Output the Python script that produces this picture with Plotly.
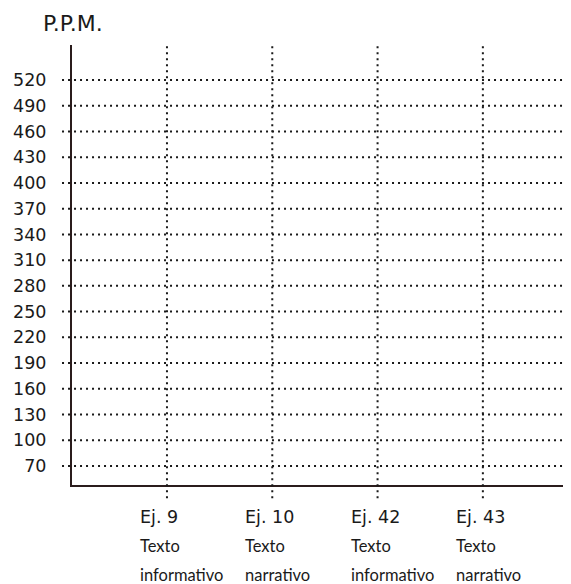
import plotly.graph_objects as go

# Data
categories = ["Ej. 9", "Ej. 10", "Ej. 42", "Ej. 43"]
category_line2 = ["Texto", "Texto", "Texto", "Texto"]
category_line3 = ["informativo", "narrativo", "informativo", "narrativo"]
y_ticks = [70, 100, 130, 160, 190, 220, 250, 280, 310, 340,
           370, 400, 430, 460, 490, 520]
y_title = "P.P.M."

# page body has an 8px margin; compensate so the plot lands where intended
W, H = 563, 576
NUM_FONT = "DejaVu Sans"
TXT_FONT = "Lato"
INK = "#1a1a1a"
PLOT_H = 440.0

fig = go.Figure()
# invisible trace to establish the category axis
fig.add_trace(go.Scatter(x=categories, y=[None] * len(categories),
                         mode="markers", showlegend=False, hoverinfo="skip"))

shapes = []
for v in y_ticks:
    shapes.append(dict(type="line", xref="paper", yref="y",
                       x0=-0.02, x1=0.99, y0=v, y1=v,
                       line=dict(color=INK, width=2, dash="2px,4px")))
for c in categories:
    shapes.append(dict(type="line", xref="x", yref="paper",
                       x0=c, x1=c, y0=-0.03, y1=1.005,
                       line=dict(color=INK, width=2, dash="2px,4px")))

annotations = [dict(text=y_title, xref="paper", yref="paper",
                    x=-0.062, y=1.048, xanchor="left", yanchor="middle",
                    showarrow=False, font=dict(family=NUM_FONT, size=22, color=INK))]
rows = [(categories, -32, NUM_FONT, 17.5),
        (category_line2, -61, TXT_FONT, 16.5),
        (category_line3, -90, TXT_FONT, 16.5)]
for labels, dy, fam, size in rows:
    for c, lab in zip(categories, labels):
        annotations.append(dict(text=lab, xref="x", yref="paper",
                                x=c, y=dy / PLOT_H, xanchor="left", yanchor="middle",
                                xshift=-29, align="left", showarrow=False,
                                font=dict(family=fam, size=size, color=INK)))

fig.update_layout(
    width=W, height=H,
    margin=dict(l=64, r=0, t=37, b=99),
    paper_bgcolor="white", plot_bgcolor="white",
    shapes=shapes, annotations=annotations,
    showlegend=False,
    xaxis=dict(type="category", range=[-0.902, 3.837],
               showticklabels=False, ticks="", showgrid=False, zeroline=False,
               showline=True, linecolor="#2a1c1c", linewidth=2),
    yaxis=dict(range=[47.85, 560.8], tickvals=y_ticks,
               ticktext=[str(v) for v in y_ticks],
               ticks="", showgrid=False, zeroline=False,
               showline=True, linecolor="#2a1c1c", linewidth=2,
               ticklabelstandoff=20,
               tickfont=dict(family=NUM_FONT, size=17.5, color=INK)),
)

fig.write_html("out.html")
